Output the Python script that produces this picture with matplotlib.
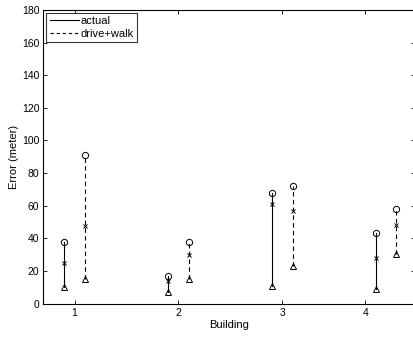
import matplotlib
matplotlib.use("Agg")
import matplotlib.pyplot as plt
from matplotlib.lines import Line2D

plt.rcParams['font.family'] = ['Liberation Sans', 'DejaVu Sans']

buildings = ['1', '2', '3', '4']
tick_pos = [1, 2, 3, 3.8]
actual_x = [0.9, 1.9, 2.9, 3.9]
drive_x = [1.1, 2.1, 3.1, 4.1]

actual_max = [38, 17, 68, 43]
actual_mid = [25, 14, 61, 28]
actual_min = [10, 7, 11, 9]

drive_max = [91, 38, 72, 58]
drive_mid = [47.5, 29.5, 57, 48]
drive_min = [15.3, 15.3, 23.3, 30.5]

fig = plt.figure(figsize=(4.14, 3.37), dpi=100)
ax = fig.add_axes([43.5/414, 1 - 303.5/337, (415 - 43.5)/414, (303.5 - 10)/337])

for xs, mx, md, mn, ls in [(actual_x, actual_max, actual_mid, actual_min, '-'),
                           (drive_x, drive_max, drive_mid, drive_min, '--')]:
    for x, a, b, c in zip(xs, mx, md, mn):
        if ls == '--':
            ax.plot([x, x], [c, a], color='black', linestyle='--', linewidth=0.8,
                    dashes=(4, 3))
        else:
            ax.plot([x, x], [c, a], color='black', linestyle='-', linewidth=0.8)
    ax.plot(xs, mx, linestyle='none', marker='o', markersize=4.5,
            markerfacecolor='none', markeredgecolor='black', markeredgewidth=0.7)
    ax.plot(xs, md, linestyle='none', marker='x', markersize=3,
            color='black', markeredgewidth=0.7)
    ax.plot(xs, mn, linestyle='none', marker='^', markersize=5,
            markerfacecolor='none', markeredgecolor='black', markeredgewidth=0.7)

ax.set_xlim(0.7, 4.28)
ax.set_ylim(0, 180)
ax.set_yticks(range(0, 181, 20))
ax.set_xticks(tick_pos)
ax.set_xticklabels(buildings)
ax.tick_params(direction='in', length=3, width=0.6, labelsize=7.5,
               top=True, right=True, pad=3)
for s in ax.spines.values():
    s.set_linewidth(0.8)
ax.set_xlabel('Building', fontsize=8, labelpad=2)
ax.set_ylabel('Error (meter)', fontsize=8, labelpad=2)

handles = [Line2D([], [], color='black', linewidth=0.8, linestyle='-'),
           Line2D([], [], color='black', linewidth=0.8, linestyle='--', dashes=(3, 2.5))]
leg = ax.legend(handles, ['actual', 'drive+walk'], loc='upper left',
                fontsize=8, frameon=True, fancybox=False, edgecolor='black',
                borderpad=0.3, labelspacing=0.25, handlelength=2.6,
                handletextpad=0.2, borderaxespad=0.25)
leg.get_frame().set_linewidth(0.8)

fig.savefig('out.png', dpi=100)
